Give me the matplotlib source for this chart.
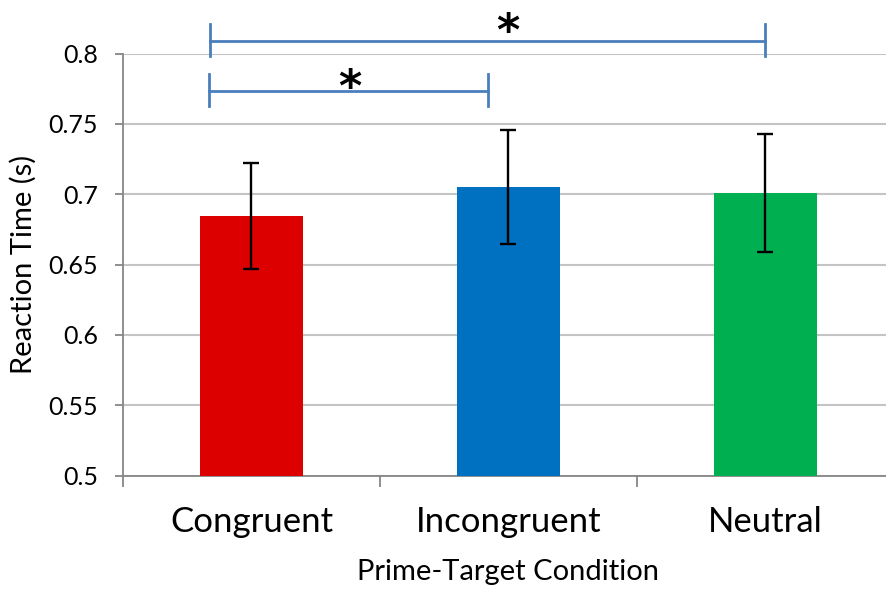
import matplotlib.pyplot as plt
from matplotlib.ticker import FuncFormatter

conditions = ["Congruent", "Incongruent", "Neutral"]
mean_rt = [0.6846, 0.7053, 0.7010]
err_rt = [0.0379, 0.0404, 0.0420]
bar_colors = ["#DC0000", "#0070C0", "#00B050"]

# significance brackets (x from, x to, y level) and star labels
brackets = [(-0.161, 1.998, 0.8091), (-0.165, 0.920, 0.7735)]
stars = [(0.998, 0.8057), (0.383, 0.7659)]

plt.rcParams['font.family'] = ['Lato', 'DejaVu Sans']

fig = plt.figure(figsize=(8.86, 5.9), dpi=100)
ax = fig.add_axes([0.1388, 0.194, 0.870, 0.7153])

x = list(range(len(conditions)))
ax.bar(x, mean_rt, width=0.4, color=bar_colors, zorder=3)
ax.errorbar(x, mean_rt, yerr=err_rt, fmt="none", ecolor="black",
            elinewidth=1.7, capsize=6, capthick=1.7, zorder=4)

ax.set_ylim(0.5, 0.8)
ax.set_xlim(-0.5, 2.5)
ax.set_yticks([0.5, 0.55, 0.6, 0.65, 0.7, 0.75, 0.8])
ax.yaxis.set_major_formatter(FuncFormatter(lambda v, p: f"{v:g}"))
ax.grid(axis="y", color="#C4C4C4", linewidth=1.5, zorder=0)

# category labels centered, ticks between categories
ax.set_xticks([-0.5, 0.5, 1.5, 2.5])
ax.set_xticklabels([])
ax.set_xticks(x, minor=True)
ax.set_xticklabels(conditions, minor=True, fontsize=25)
ax.tick_params(axis="x", which="minor", length=0, pad=22)
ax.tick_params(axis="x", which="major", length=8, width=1.3, color="#868686")
ax.tick_params(axis="y", length=6, width=1.3, color="#868686", labelsize=18, pad=12)

for side in ["top", "right"]:
    ax.spines[side].set_visible(False)
for side in ["left", "bottom"]:
    ax.spines[side].set_color("#868686")
    ax.spines[side].set_linewidth(1.3)

ax.set_ylabel("Reaction Time (s)", fontsize=21)
ax.yaxis.set_label_coords(-0.1115, 0.5)
ax.set_xlabel("Prime-Target Condition", fontsize=21)
ax.xaxis.set_label_coords(0.5, -0.198)

# significance brackets
for x0, x1, yy in brackets:
    ax.plot([x0, x1], [yy, yy], color="#4A7EBB", lw=2, clip_on=False, zorder=5)
    for xx in (x0, x1):
        ax.plot([xx, xx], [yy - 0.0107, yy + 0.0117], color="#4A7EBB", lw=2,
                clip_on=False, zorder=5)
for sx, sy in stars:
    ax.text(sx, sy, "*", ha="center", va="baseline", fontsize=32,
            fontweight="bold", family="DejaVu Sans", clip_on=False)

fig.savefig("out.png", dpi=100)
